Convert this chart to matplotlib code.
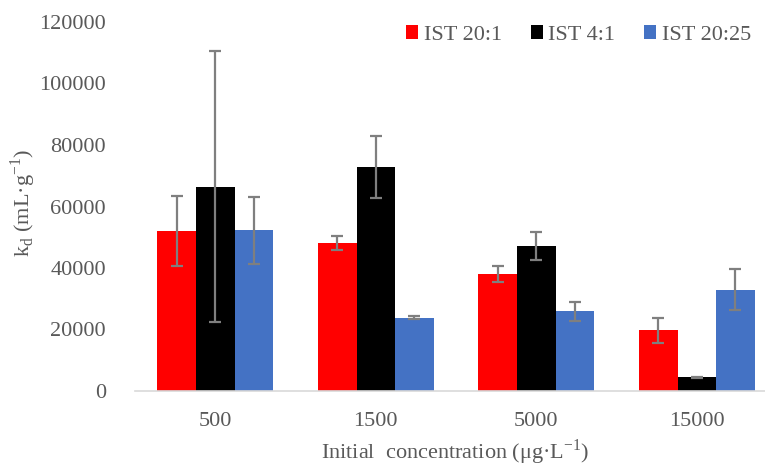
import matplotlib
matplotlib.use('Agg')
import matplotlib.pyplot as plt
import numpy as np

plt.rcParams['font.family'] = ['Liberation Serif', 'DejaVu Serif']
plt.rcParams['mathtext.fontset'] = 'custom'
plt.rcParams['mathtext.rm'] = 'Liberation Serif'

categories = ['500', '1500', '5000', '15000']
series = ['IST 20:1', 'IST 4:1', 'IST 20:25']
ist_20_1 = [52000, 48000, 38000, 19700]
ist_20_1_err = [11300, 2300, 2600, 4200]
ist_4_1 = [66400, 72900, 47200, 4400]
ist_4_1_err = [44100, 10100, 4500, 300]
ist_20_25 = [52200, 23900, 25900, 33000]
ist_20_25_err = [11000, 500, 3000, 6700]

colors = ['#ff0000', '#000000', '#4472c4']
text_color = '#595959'

fig = plt.figure(figsize=(7.65, 4.68), dpi=100)
ax = fig.add_axes([135 / 765, 77 / 468, 1 - 135 / 765, 369 / 468])

x = np.arange(len(categories))
w = 0.24
values = [ist_20_1, ist_4_1, ist_20_25]
errs = [ist_20_1_err, ist_4_1_err, ist_20_25_err]
for i in range(3):
    ax.bar(x + (i - 1) * w, values[i], w, color=colors[i], label=series[i],
           yerr=errs[i], error_kw=dict(ecolor='#7f7f7f', elinewidth=1.6,
                                       capsize=4.5, capthick=1.6), zorder=2)

ax.set_xlim(-0.5, 3.425)
ax.set_ylim(0, 120000)
ax.set_yticks(np.arange(0, 120001, 20000))
ax.set_xticks(x)
ax.set_xticklabels(categories)
ax.tick_params(length=0, labelsize=16, colors=text_color)
ax.tick_params(axis='x', pad=15)
ax.tick_params(axis='y', pad=21)

for s in ['top', 'right', 'left']:
    ax.spines[s].set_visible(False)
ax.spines['bottom'].set_color('#d9d9d9')
ax.spines['bottom'].set_linewidth(1.2)

fig.text(455 / 765, 1 - 452 / 468, r'Initial  concentration (μg·L$^{\mathregular{-1}}$)',
         ha='center', va='center', fontsize=16, color=text_color)
fig.text(23 / 765, 1 - 203 / 468, r'k$_{\mathregular{d}}$ (mL·g$^{\mathregular{-1}}$)',
         ha='center', va='center', rotation=90, fontsize=16, color=text_color)

ax.legend(loc='upper right', bbox_to_anchor=(1.01, 1.045), ncol=3, frameon=False,
          fontsize=16, handlelength=0.55, handleheight=0.55, handletextpad=0.25,
          columnspacing=1.3, labelcolor=text_color)

plt.savefig('out.png', dpi=100)
plt.close()
